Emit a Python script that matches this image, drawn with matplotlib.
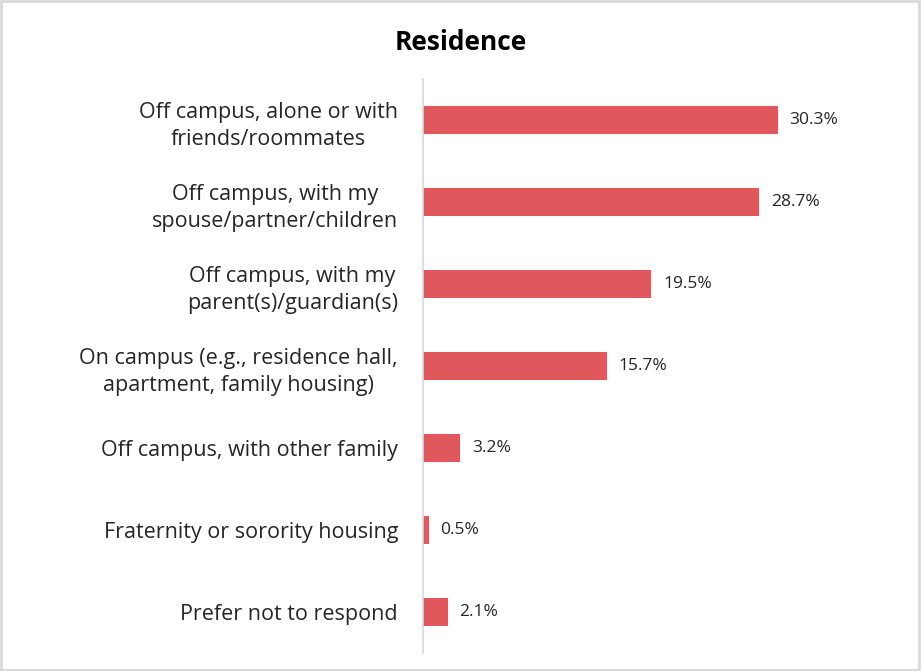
import matplotlib.pyplot as plt
from matplotlib.patches import Rectangle

plt.rcParams['font.family'] = ['Open Sans', 'DejaVu Sans']

categories = [
    "Off campus, alone or with\nfriends/roommates",
    "Off campus, with my\nspouse/partner/children",
    "Off campus, with my\nparent(s)/guardian(s)",
    "On campus (e.g., residence hall,\napartment, family housing)",
    "Off campus, with other family",
    "Fraternity or sorority housing",
    "Prefer not to respond",
]
percents = [30.3, 28.7, 19.5, 15.7, 3.2, 0.5, 2.1]

fig = plt.figure(figsize=(9.22, 6.71), dpi=100)
ax = fig.add_axes([0.4588, 0.027, 0.508, 0.855])

pos = list(range(len(categories)))
ax.barh(pos, percents, height=0.34, color='#E0585C')
for p, v in zip(pos, percents):
    ax.text(v + 1.0, p, f"{v:.1f}%", va='center', ha='left', fontsize=12.5, color='#262626')

ax.set_yticks(pos)
ax.set_yticklabels(categories, fontsize=15.5, color='#262626', ha='right',
                   multialignment='center', linespacing=1.4)
ax.tick_params(axis='y', length=0, pad=18)
ax.set_ylim(len(categories) - 0.5, -0.5)
ax.set_xlim(0, 40)
ax.set_xticks([])
for s in ['top', 'right', 'bottom']:
    ax.spines[s].set_visible(False)
ax.spines['left'].set_color('#D9D9D9')
ax.spines['left'].set_linewidth(1.2)

fig.text(0.5, 0.936, "Residence", ha='center', va='center', fontsize=19, fontweight='bold', color='black')

fig.patches.append(Rectangle((0.001, 0.002), 0.996, 0.996, transform=fig.transFigure,
                             fill=False, edgecolor='#D9D9D9', linewidth=2))

fig.savefig('out.png', dpi=100)
